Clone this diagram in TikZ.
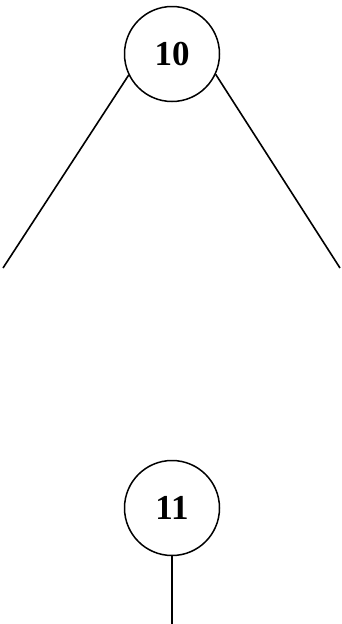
\documentclass[tikz,border=0pt]{standalone}
\usepackage{fontspec}
\setmainfont{Liberation Serif}
\usepackage{tikz}
\usetikzlibrary{positioning}

\begin{document}
\begin{tikzpicture}[x=1pt,y=1pt,
    keynode/.style={circle,draw,line width=1.5pt,minimum size=95pt,inner sep=0pt,
      font=\fontsize{35}{37}\selectfont\bfseries},
    edge/.style={line width=1.6pt}]
  \useasboundingbox (0,0) rectangle (341,-624);
  \node[keynode] (k10) at (172,-54) {10};
  \node[keynode] (k11) at (172,-508) {11};
  % loose ends of the subtrees
  \coordinate (l10) at (3,-268);
  \coordinate (r10) at (340,-268);
  \coordinate (d11) at (172,-624);
  \draw[edge] (k10.206) -- (l10);
  \draw[edge] (k10.335) -- (r10);
  \draw[edge] (k11.south) -- (d11);
\end{tikzpicture}
\end{document}
